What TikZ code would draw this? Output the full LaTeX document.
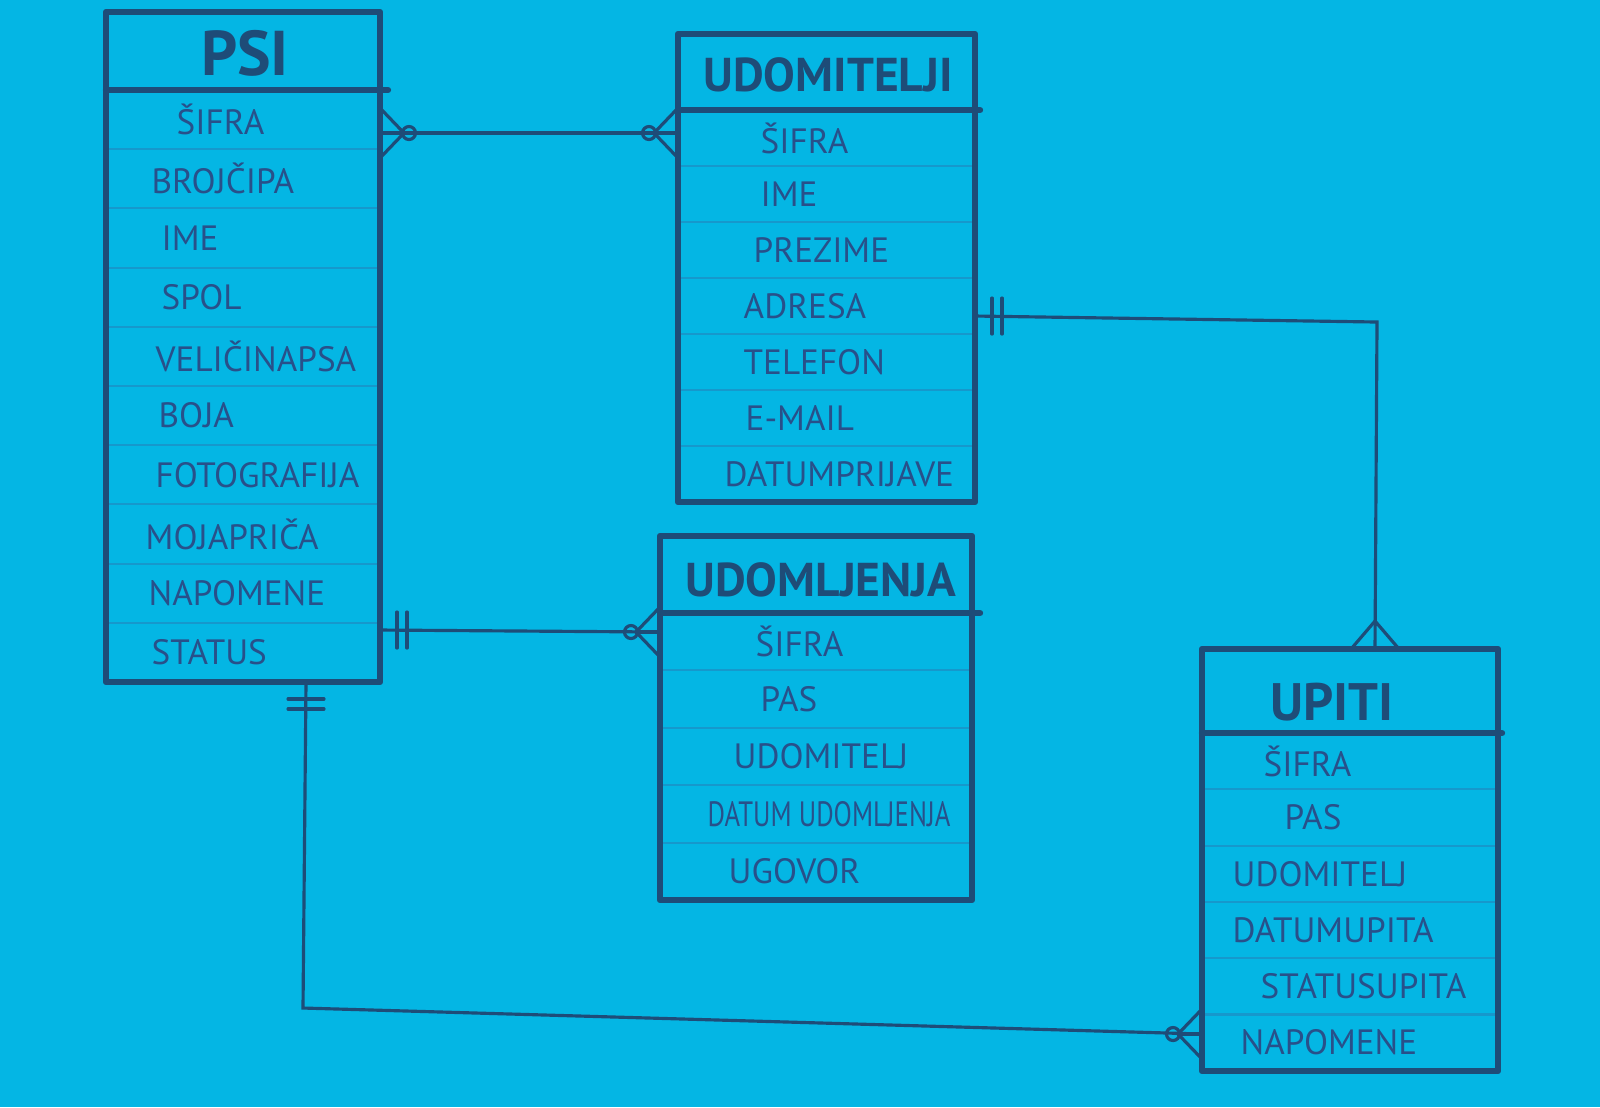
\documentclass[tikz,border=0pt]{standalone}
\usepackage{fontspec}
\setmainfont{PT Sans}
\usetikzlibrary{calc}
\usetikzlibrary{positioning}

\definecolor{paper}{RGB}{4,182,228}
\definecolor{ink}{RGB}{30,76,120}
\definecolor{pen}{RGB}{40,80,138}
\definecolor{rule}{RGB}{22,152,204}

\tikzset{
  table/.style={draw=ink, line width=1.8pt, line join=round, line cap=round},
  rowline/.style={draw=rule, line width=0.6pt},
  conn/.style={draw=ink, line width=0.9pt, line cap=round},
  attr/.style={anchor=west, text=pen, inner sep=0pt, font=\fontsize{10}{12}\selectfont},
  title/.style={text=ink, inner sep=0pt, font=\bfseries\fontsize{13.5}{15}\selectfont},
  crowo/.pic={\draw[conn] (0,0.25) -- (0.24,0) -- (0,-0.25);
              \draw[conn] (0,0) -- (0.24,0);
              \draw[conn] (0.29,0) circle (0.065);},
  crow/.pic={\draw[conn] (0,0.24) -- (0.28,0) -- (0,-0.24);},
  bars/.pic={\draw[conn] (0.17,-0.18) -- (0.17,0.18);
             \draw[conn] (0.27,-0.18) -- (0.27,0.18);}
}

\begin{document}
\begin{tikzpicture}
	\useasboundingbox (0,0) rectangle (16,-11.07);
	\fill[paper] (0,0) rectangle (16,-11.07);

	% PSI
	\foreach \i in {1,...,9}
		\draw[rowline] (1.06,{-0.90-0.592*\i}) -- (3.80,{-0.90-0.592*\i});
	\draw[table] (1.06,-0.12) rectangle (3.80,-6.82);
	\draw[table] (1.06,-0.90) -- (3.88,-0.90);
	\node[title, font=\bfseries\fontsize{18}{20}\selectfont] (psi) at (2.45,-0.53) {PSI};
	\foreach \t/\x [count=\i] in {ŠIFRA/1.76, BROJČIPA/1.51, IME/1.61, SPOL/1.61,
	                             VELIČINAPSA/1.55, BOJA/1.58, FOTOGRAFIJA/1.55,
	                             MOJAPRIČA/1.45, NAPOMENE/1.48, STATUS/1.51}
		\node[attr] (psi-\i) at (\x,{-0.90-0.592*(\i-0.5)}) {\t};

	% UDOMITELJI
	\foreach \i in {1,...,6}
		\draw[rowline] (6.78,{-1.10-0.56*\i}) -- (9.75,{-1.10-0.56*\i});
	\draw[table] (6.78,-0.34) rectangle (9.75,-5.02);
	\draw[table] (6.78,-1.10) -- (9.80,-1.10);
	\node[title] (udomitelji) at (8.28,-0.75) {UDOMITELJI};
	\foreach \t/\x [count=\i] in {ŠIFRA/7.60, IME/7.60, PREZIME/7.53, ADRESA/7.43,
	                             TELEFON/7.43, E-MAIL/7.45, DATUMPRIJAVE/7.24}
		\node[attr] (ud-\i) at (\x,{-1.10-0.56*(\i-0.5)}) {\t};

	% UDOMLJENJA
	\foreach \i in {1,...,4}
		\draw[rowline] (6.60,{-6.13-0.574*\i}) -- (9.72,{-6.13-0.574*\i});
	\draw[table] (6.60,-5.36) rectangle (9.72,-9.00);
	\draw[table] (6.60,-6.13) -- (9.80,-6.13);
	\node[title] (udomljenja) at (8.21,-5.80) {UDOMLJENJA};
	\foreach \t/\x [count=\i] in {ŠIFRA/7.55, PAS/7.60, UDOMITELJ/7.33,
	                             {\scalebox{0.76}[1]{DATUM UDOMLJENJA}}/7.07, UGOVOR/7.28}
		\node[attr] (ul-\i) at (\x,{-6.13-0.574*(\i-0.5)}) {\t};

	% UPITI
	\foreach \i in {1,...,5}
		\draw[rowline] (12.02,{-7.33-0.563*\i}) -- (14.98,{-7.33-0.563*\i});
	\draw[table] (12.02,-6.49) rectangle (14.98,-10.71);
	\draw[table] (12.02,-7.33) -- (15.02,-7.33);
	\node[title, font=\bfseries\fontsize{15}{17}\selectfont] (upiti) at (13.32,-7.02) {UPITI};
	\foreach \t/\x [count=\i] in {ŠIFRA/12.63, PAS/12.84, UDOMITELJ/12.32,
	                             DATUMUPITA/12.32, STATUSUPITA/12.60, NAPOMENE/12.40}
		\node[attr] (up-\i) at (\x,{-7.33-0.563*(\i-0.5)}) {\t};

	% veze
	\coordinate (psiE1) at (3.80,-1.33);
	\coordinate (udW1) at (6.78,-1.33);
	\coordinate (udE1) at (9.75,-3.16);
	\coordinate (bend1) at (13.77,-3.22);
	\coordinate (upN1) at (13.75,-6.49);
	\coordinate (psiE2) at (3.80,-6.30);
	\coordinate (ulW1) at (6.60,-6.32);
	\coordinate (psiS1) at (3.06,-6.82);
	\coordinate (bend2) at (3.03,-10.08);
	\coordinate (upW1) at (12.02,-10.34);

	\path[conn] (psiE1) edge (udW1);
	\draw[conn] (udE1) -- (bend1) -- (upN1);
	\path[conn] (psiE2) edge (ulW1);
	\draw[conn] (psiS1) -- (bend2) -- (upW1);

	\pic at (psiE1) {crowo};
	\pic[rotate=180] at (udW1) {crowo};
	\pic at (udE1) {bars};
	\pic[rotate=90] at (upN1) {crow};
	\pic at (psiE2) {bars};
	\pic[rotate=180] at (ulW1) {crowo};
	\pic[rotate=-90] at (psiS1) {bars};
	\pic[rotate=180] at (upW1) {crowo};
\end{tikzpicture}
\end{document}
